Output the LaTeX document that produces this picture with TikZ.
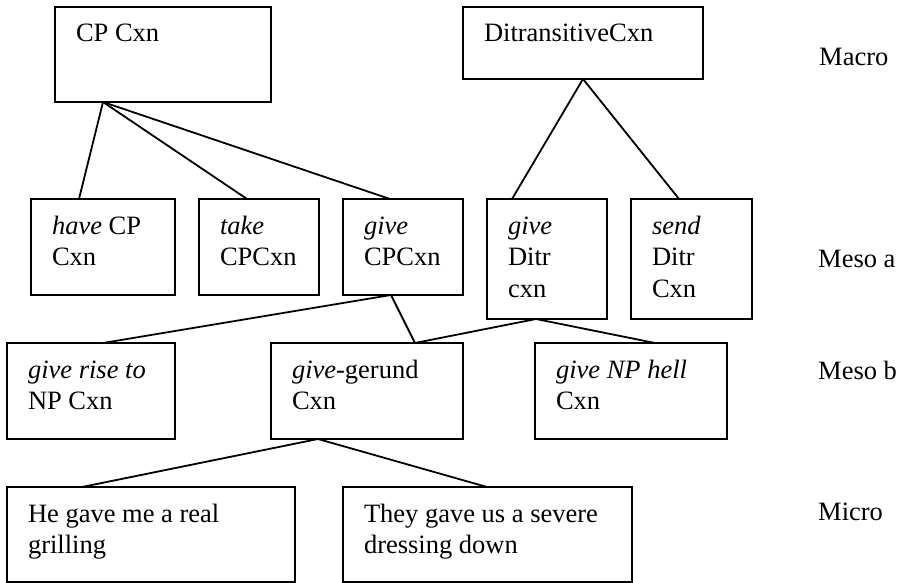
\documentclass[tikz,border=0pt]{standalone}
\usepackage{fontspec}
\setmainfont{Liberation Serif}
\usetikzlibrary{calc}

\tikzset{
  box/.style 2 args={draw, line width=1.8pt, rectangle, anchor=north west,
    outer sep=0pt, inner xsep=21pt, inner ysep=0pt, align=flush left,
    text width=#1, text height=35pt, text depth=#2,
    font=\fontsize{26.5pt}{31.5pt}\selectfont},
  link/.style={line width=1.8pt},
  level/.style={anchor=base west, inner sep=0pt,
    font=\fontsize{26.5pt}{31.5pt}\selectfont}
}

\begin{document}
\begin{tikzpicture}[x=1pt, y=-1pt]
\useasboundingbox (0,0) rectangle (904,583);

% Macro level
\node[box={174pt}{60pt}] (cp)   at (55,7)   {CP Cxn};
\node[box={198pt}{37pt}] (ditr) at (463,7)  {DitransitiveCxn};

% Meso a level
\node[box={102pt}{61pt}] (have)     at (31,199)  {\textit{have} CP\\Cxn};
\node[box={78pt}{61pt}]  (take)     at (199,199) {\textit{take}\\CPCxn};
\node[box={78pt}{61pt}]  (givecp)   at (343,199) {\textit{give}\\CPCxn};
\node[box={78pt}{85pt}]  (giveditr) at (487,199) {\textit{give}\\Ditr\\cxn};
\node[box={79pt}{85pt}]  (send)     at (631,199) {\textit{send}\\Ditr\\Cxn};

% Meso b level
\node[box={126pt}{61pt}] (rise)   at (7,343)   {\textit{give rise to}\\NP Cxn};
\node[box={150pt}{61pt}] (gerund) at (271,343) {\textit{give}-gerund\\Cxn};
\node[box={150pt}{61pt}] (hell)   at (535,343) {\textit{give NP hell}\\Cxn};

% Micro level
\node[box={246pt}{60pt}] (he)   at (7,487)   {He gave me a real\\grilling};
\node[box={247pt}{60pt}] (they) at (343,487) {They gave us a severe\\dressing down};

% Level labels
\node[level] (lmacro) at (819,66)  {Macro};
\node[level] (lmesoa) at (818,267) {Meso a};
\node[level] (lmesob) at (818,379) {Meso b};
\node[level] (lmicro) at (818,520) {Micro};

% Links between levels
\draw[link] ($(cp.south west)+(48,0)$) -- ($(have.north west)+(48,0)$);
\draw[link] ($(cp.south west)+(48,0)$) -- ($(take.north west)+(48,0)$);
\draw[link] ($(cp.south west)+(48,0)$) -- ($(givecp.north west)+(47,0)$);
\draw[link] (ditr.south) -- ($(giveditr.north west)+(25,0)$);
\draw[link] (ditr.south) -- ($(send.north west)+(48,0)$);
\draw[link] ($(givecp.south west)+(48,0)$) -- ($(rise.north west)+(96,0)$);
\draw[link] ($(givecp.south west)+(48,0)$) -- ($(gerund.north west)+(144,0)$);
\draw[link] ($(giveditr.south west)+(49,0)$) -- ($(gerund.north west)+(144,0)$);
\draw[link] ($(giveditr.south west)+(49,0)$) -- ($(hell.north west)+(120,0)$);
\draw[link] ($(gerund.south west)+(47,0)$) -- ($(he.north west)+(75,0)$);
\draw[link] ($(gerund.south west)+(47,0)$) -- ($(they.north west)+(144,0)$);
\end{tikzpicture}
\end{document}
